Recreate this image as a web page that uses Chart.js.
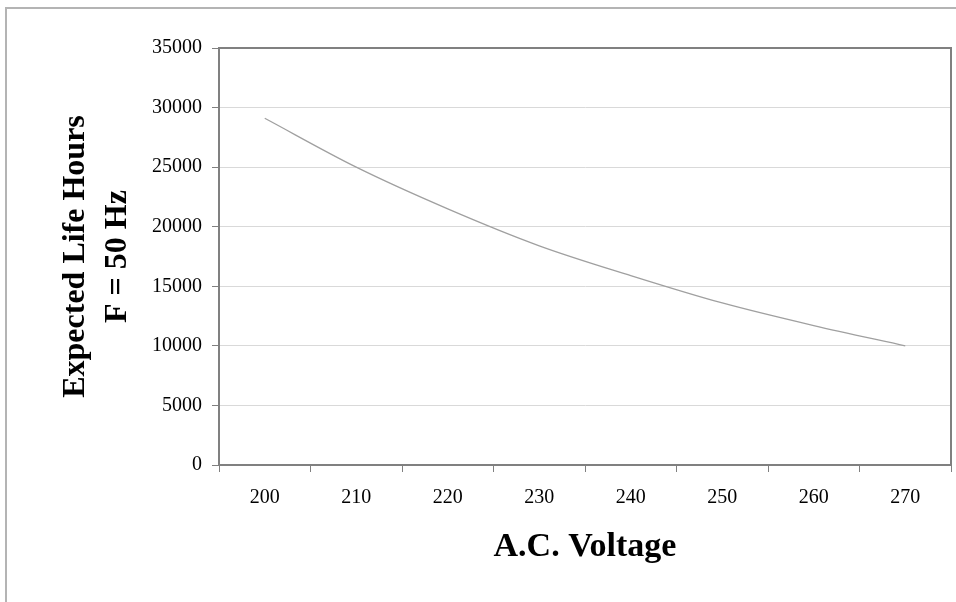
<!DOCTYPE html>
<html>
<head>
<meta charset="utf-8">
<script src="https://cdn.jsdelivr.net/npm/chart.js@4"></script>
<style>
    html, body { margin: 0; padding: 0; background: #fff; }
    #wrap { position: relative; width: 956px; height: 602px; overflow: hidden; }
    #frame { position: absolute; left: 5px; top: 7px; width: 960px; height: 600px;
             border-top: 2px solid #b4b4b4; border-left: 2px solid #b4b4b4; }
    canvas { position: absolute; left: 0; top: 0; }
</style>
</head>
<body>
<div id="wrap">
    <div id="frame"></div>
    <canvas id="lifeChart" width="956" height="602"></canvas>
</div>
<script>
// Data
const voltages = ['200', '210', '220', '230', '240', '250', '260', '270'];
const lifeHours = [29100, 25000, 21500, 18400, 15900, 13600, 11700, 10000];
const yTicks = [0, 5000, 10000, 15000, 20000, 25000, 30000, 35000];

const serif = '"Liberation Serif", "Times New Roman", serif';

// Draws the dark frame round the plot area
const plotFrame = {
    id: 'plotFrame',
    afterDraw(chart) {
        const { ctx, chartArea } = chart;
        ctx.save();
        ctx.strokeStyle = '#808080';
        ctx.lineWidth = 2;
        ctx.strokeRect(chartArea.left, chartArea.top, chartArea.right - chartArea.left, chartArea.bottom - chartArea.top);
        ctx.restore();
    }
};

const ctx = document.getElementById('lifeChart').getContext('2d');

new Chart(ctx, {
    type: 'line',
    data: {
        labels: voltages,
        datasets: [{
            data: lifeHours,
            borderColor: '#a0a0a0',
            borderWidth: 1.3,
            pointRadius: 0,
            tension: 0.4,
            cubicInterpolationMode: 'monotone',
            fill: false
        }]
    },
    options: {
        responsive: false,
        animation: false,
        layout: {
            padding: { left: 0, right: 5, top: 48, bottom: 0 }
        },
        plugins: {
            legend: { display: false },
            tooltip: { enabled: false }
        },
        scales: {
            x: {
                type: 'category',
                offset: true,
                afterFit: s => { s.height = 137; },
                grid: {
                    offset: true,
                    drawOnChartArea: false,
                    drawTicks: true,
                    tickLength: 7,
                    color: '#808080',
                    lineWidth: 1
                },
                border: { color: '#808080', width: 2 },
                ticks: {
                    color: '#000',
                    padding: 14,
                    maxRotation: 0,
                    font: { family: serif, size: 20 }
                },
                title: {
                    display: true,
                    text: 'A.C. Voltage',
                    color: '#000',
                    padding: { top: 0, bottom: 34 },
                    font: { family: serif, size: 34, weight: 'bold' }
                }
            },
            y: {
                min: 0,
                max: 35000,
                afterFit: s => { s.width = 219; },
                afterBuildTicks: s => { s.ticks = yTicks.map(v => ({ value: v })); },
                grid: {
                    color: '#d9d9d9',
                    lineWidth: 1,
                    tickLength: 7,
                    tickColor: '#808080'
                },
                border: { color: '#808080', width: 2 },
                ticks: {
                    color: '#000',
                    padding: 10,
                    font: { family: serif, size: 20 },
                    callback: v => String(v)
                },
                title: {
                    display: true,
                    text: ['Expected Life Hours', 'F = 50 Hz'],
                    color: '#000',
                    padding: { top: 55, bottom: 0 },
                    font: { family: serif, size: 32, weight: 'bold', lineHeight: '42px' }
                }
            }
        }
    },
    plugins: [plotFrame]
});
</script>
</body>
</html>
